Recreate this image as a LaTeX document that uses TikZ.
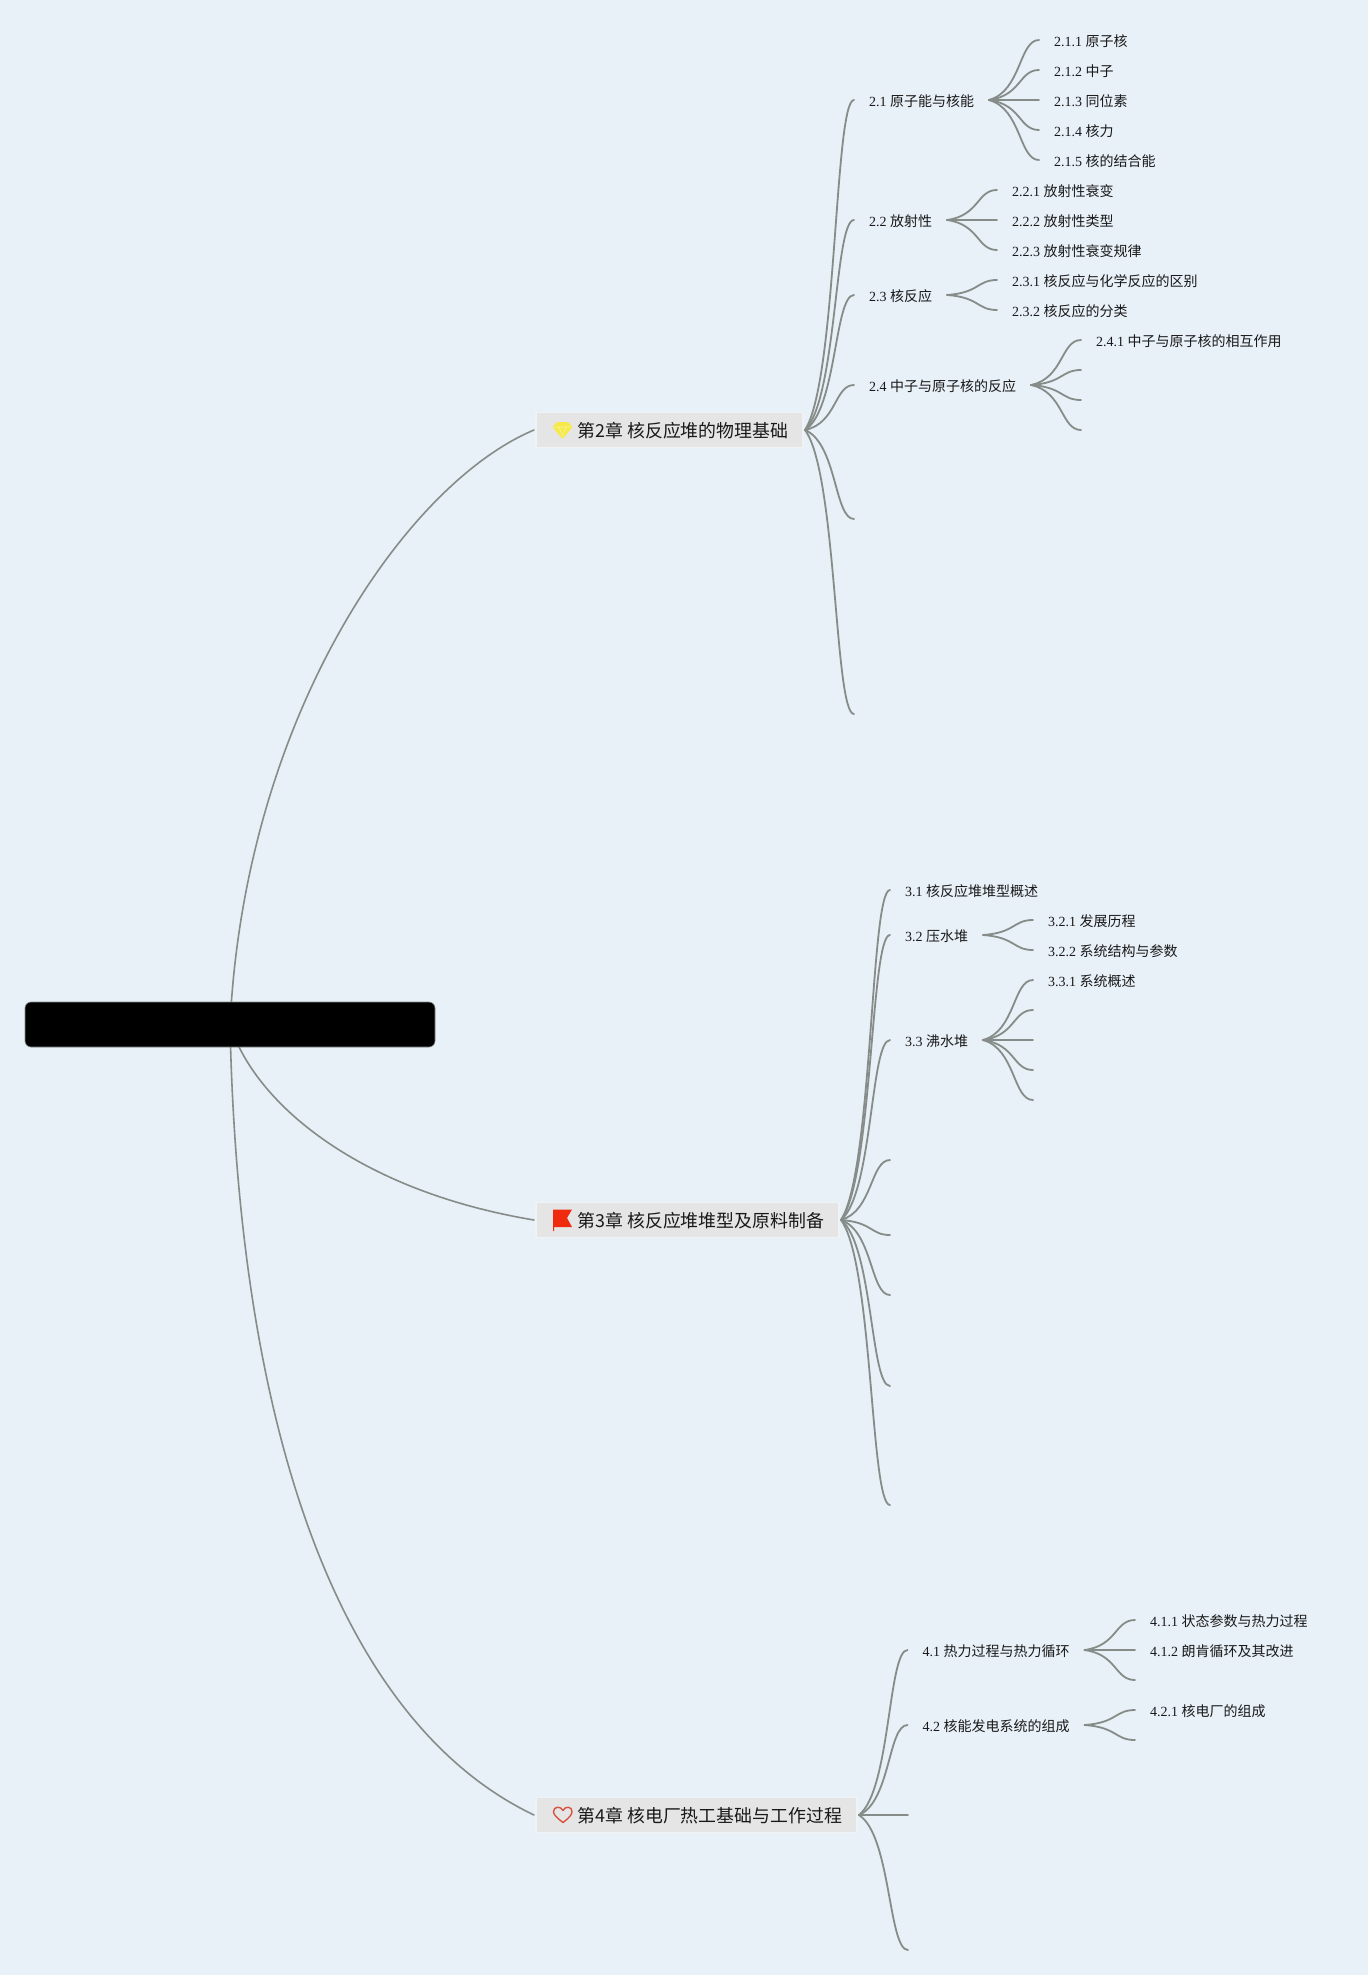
\documentclass[tikz,border=0pt]{standalone}
\usepackage{fontspec}
\setmainfont{Liberation Serif}
\newfontfamily\cjkfont{Noto Sans CJK SC}
\usetikzlibrary{calc,backgrounds}
\definecolor{pagebg}{HTML}{E8F0F8}
\definecolor{linkcol}{HTML}{868C88}
\definecolor{chapfill}{HTML}{E5E5E6}
\definecolor{chapedge}{HTML}{F0F3F6}
\definecolor{gemcol}{HTML}{F6E94A}
\definecolor{gemline}{HTML}{FAF29A}
\definecolor{flagcol}{HTML}{F02A0C}
\definecolor{heartcol}{HTML}{D9513F}
\tikzset{
  conn/.style={draw=linkcol,line width=1.8pt,line cap=round},
  rootconn/.style={draw=linkcol,line width=1.6pt,line cap=round},
  leaf/.style={anchor=west,inner xsep=15pt,inner ysep=0pt,outer sep=0pt,text height=13pt,text depth=0pt,text=black!90,font=\fontsize{14}{16}\selectfont},
  chap/.style={anchor=west,rectangle,fill=chapfill,draw=chapedge,line width=1.5pt,inner xsep=15pt,inner ysep=0pt,outer xsep=2pt,minimum height=35pt,text height=14pt,text depth=0pt,text=black!90,font=\cjkfont\fontsize{17.9}{20}\selectfont},
  rootbox/.style={rectangle,fill=black,draw=linkcol,line width=0.6pt,rounded corners=6pt,minimum width=410pt,minimum height=45pt,inner sep=0pt}
}
\newcommand{\lnkf}[7]{\draw[#7] let \p1=(#1),\p2=(#2),\n1={\x2-\x1},\n2={\y2-\y1} in (\p1) .. controls ({\x1+#3*\n1},{\y1+#4*\n2}) and ({\x1+#5*\n1},{\y1+#6*\n2}) .. (\p2);}
\newcommand{\lnk}[2]{\lnkf{#1}{#2}{.65}{.15}{.6}{1}{conn}}
\newcommand{\lab}[2]{#1 {\cjkfont #2}}
\newcommand{\leafn}[5]{\node[leaf] (#1) at (#2,#3) {\lab{#4}{#5}};}
\newcommand{\chaptext}[2]{\makebox[#1][l]{\hspace*{26.5pt}#2}}
\begin{document}
\begin{tikzpicture}[x=1pt,y=-1pt]
\useasboundingbox (0,0) rectangle (1368,1975);
\node[rootbox] (root) at (230,1024.5) {};
\node[chap] (ch2) at (534,430) {\chaptext{237pt}{第2章 核反应堆的物理基础}};
\node[chap] (ch3) at (534,1220) {\chaptext{273pt}{第3章 核反应堆堆型及原料制备}};
\node[chap] (ch4) at (534,1815) {\chaptext{291pt}{第4章 核电厂热工基础与工作过程}};
% icons
\fill[gemcol,rounded corners=1pt] (557,422) -- (568,422) -- (572.5,427) -- (562.5,439) -- (552.5,427) -- cycle;
\draw[gemline,line width=0.6pt] (553.5,427) -- (571.5,427) (559,427) -- (562.5,436) -- (566,427);
\fill[flagcol] (553,1209.5) -- (572,1209.5) -- (567,1218) -- (572,1227) -- (554,1227) -- (554,1231) -- (553,1231) -- cycle;
\draw[draw=heartcol,line width=1.4pt,line join=round] (563,1822.5) .. controls (556,1817) and (553.5,1814.5) .. (553.5,1811.5) .. controls (553.5,1806.5) and (560.5,1805.5) .. (563,1810.5) .. controls (565.5,1805.5) and (572,1806.5) .. (572,1811.5) .. controls (572,1814.5) and (570,1817) .. (563,1822.5) -- cycle;
% chapter 2
\leafn{n21}{854}{100}{2.1}{原子能与核能}
\leafn{n22}{854}{220}{2.2}{放射性}
\leafn{n23}{854}{295}{2.3}{核反应}
\leafn{n24}{854}{385}{2.4}{中子与原子核的反应}
\coordinate (n25) at (854,519);
\coordinate (n26) at (854,714);
\leafn{n211}{1039}{40}{2.1.1}{原子核}
\leafn{n212}{1039}{70}{2.1.2}{中子}
\leafn{n213}{1039}{100}{2.1.3}{同位素}
\leafn{n214}{1039}{130}{2.1.4}{核力}
\leafn{n215}{1039}{160}{2.1.5}{核的结合能}
\leafn{n221}{997}{190}{2.2.1}{放射性衰变}
\leafn{n222}{997}{220}{2.2.2}{放射性类型}
\leafn{n223}{997}{250}{2.2.3}{放射性衰变规律}
\leafn{n231}{997}{280}{2.3.1}{核反应与化学反应的区别}
\leafn{n232}{997}{310}{2.3.2}{核反应的分类}
\leafn{n241}{1081}{340}{2.4.1}{中子与原子核的相互作用}
\coordinate (n242) at (1081,370);
\coordinate (n243) at (1081,400);
\coordinate (n244) at (1081,430);
% chapter 3
\leafn{n31}{890}{890}{3.1}{核反应堆堆型概述}
\leafn{n32}{890}{935}{3.2}{压水堆}
\leafn{n33}{890}{1040}{3.3}{沸水堆}
\coordinate (n34) at (890,1160);
\coordinate (n35) at (890,1235);
\coordinate (n36) at (890,1295);
\coordinate (n37) at (890,1386);
\coordinate (n38) at (890,1505);
\leafn{n321}{1033}{920}{3.2.1}{发展历程}
\leafn{n322}{1033}{950}{3.2.2}{系统结构与参数}
\leafn{n331}{1033}{980}{3.3.1}{系统概述}
\coordinate (n332) at (1033,1010);
\coordinate (n333) at (1033,1040);
\coordinate (n334) at (1033,1070);
\coordinate (n335) at (1033,1100);
% chapter 4
\leafn{n41}{907.5}{1650}{4.1}{热力过程与热力循环}
\leafn{n42}{907.5}{1725}{4.2}{核能发电系统的组成}
\coordinate (n43) at (908,1815);
\coordinate (n44) at (908,1950);
\leafn{n411}{1135}{1620}{4.1.1}{状态参数与热力过程}
\leafn{n412}{1135}{1650}{4.1.2}{朗肯循环及其改进}
\coordinate (n413) at (1135,1680);
\leafn{n421}{1135}{1710}{4.2.1}{核电厂的组成}
\coordinate (n422) at (1135,1740);
\begin{scope}[on background layer]
\fill[pagebg] (0,0) rectangle (1368,1975);
\lnkf{root.center}{ch2.west}{.05}{.52}{.58}{.91}{rootconn}
\lnkf{root.center}{ch3.west}{.08}{.4}{.42}{.85}{rootconn}
\lnkf{root.center}{ch4.west}{.03}{.55}{.4}{.89}{rootconn}
\foreach \c in {n21.west,n22.west,n23.west,n24.west,n25,n26}{\lnk{ch2.east}{\c}}
\foreach \c in {n31.west,n32.west,n33.west,n34,n35,n36,n37,n38}{\lnk{ch3.east}{\c}}
\foreach \c in {n41.west,n42.west,n43,n44}{\lnk{ch4.east}{\c}}
\foreach \c in {n211,n212,n213,n214,n215}{\lnk{n21.east}{\c.west}}
\foreach \c in {n221,n222,n223}{\lnk{n22.east}{\c.west}}
\foreach \c in {n231,n232}{\lnk{n23.east}{\c.west}}
\foreach \c in {n241.west,n242,n243,n244}{\lnk{n24.east}{\c}}
\foreach \c in {n321,n322}{\lnk{n32.east}{\c.west}}
\foreach \c in {n331.west,n332,n333,n334,n335}{\lnk{n33.east}{\c}}
\foreach \c in {n411.west,n412.west,n413}{\lnk{n41.east}{\c}}
\foreach \c in {n421.west,n422}{\lnk{n42.east}{\c}}
\end{scope}
\end{tikzpicture}
\end{document}
